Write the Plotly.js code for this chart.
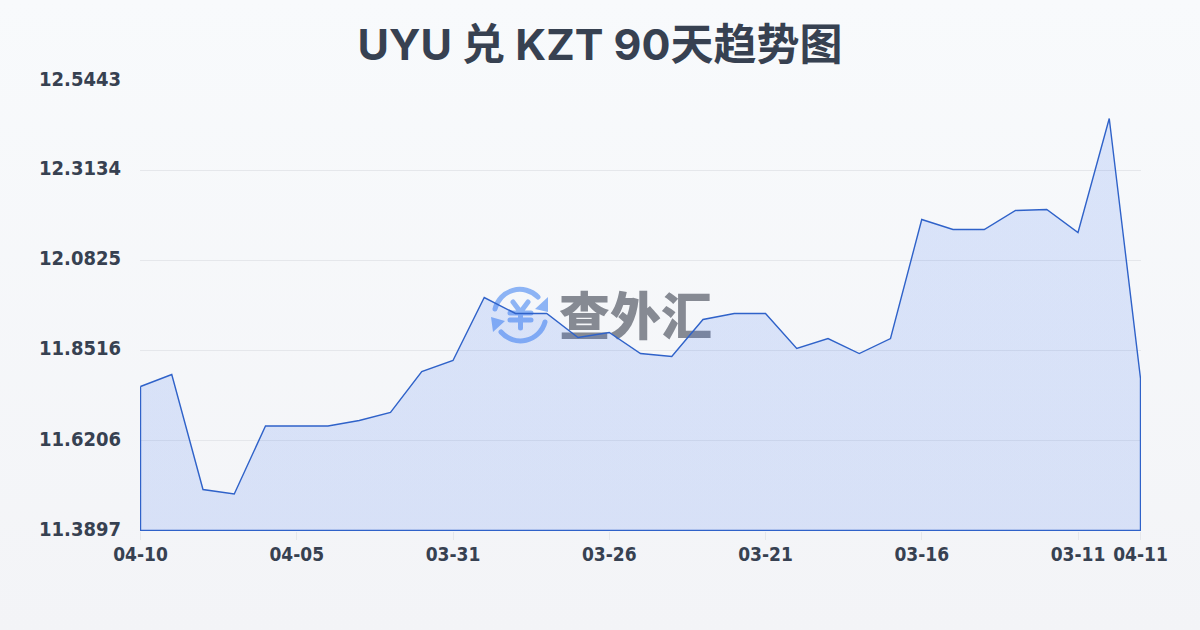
<!DOCTYPE html>
<html>
<head>
<meta charset="utf-8">
<script src="https://cdn.plot.ly/plotly-3.0.1.min.js"></script>
<style>
html,body{margin:0;padding:0;width:1200px;height:630px;overflow:hidden;background:linear-gradient(180deg,#f8fafc 0%,#f3f4f7 100%);}
#wm{position:absolute;left:490px;top:285px;width:240px;height:60px;z-index:0;}
#wm svg{position:absolute;left:0;top:0;}
#wm span{position:absolute;left:69px;top:-7px;font:900 51px/70px "Noto Sans CJK SC";color:#868a93;white-space:nowrap;letter-spacing:0;}
#chart{position:absolute;left:0;top:0;width:1200px;height:630px;z-index:1;}
</style>
</head>
<body>
<div id="wm">
<svg width="62" height="60" viewBox="0 0 62 60">
<g fill="none" stroke="#8db4f5" stroke-width="5" stroke-linecap="round">
<path d="M5 24 A25.5 25.5 0 0 1 48 12"/>
<path d="M55 37 A25.5 25.5 0 0 1 11 47"/>
<path d="M23 17 L30.5 27 L38 17 M20 28 H41 M20 35 H41 M30.5 27 V43"/>
</g>
<path d="M58 12 V27 L45 24 Z M1 32 L15 36 L3 47 Z" fill="#8db4f5"/>
</svg>
<span>查外汇</span>
</div>
<div id="chart"></div>
<script>
const dates = ["04-10","04-09","04-08","04-07","04-06","04-05","04-04","04-03","04-02","04-01","03-31","03-30","03-29","03-28","03-27","03-26","03-25","03-24","03-23","03-22","03-21","03-20","03-19","03-18","03-17","03-16","03-15","03-14","03-13","03-12","03-11","03-10","04-11"];
const rates = [11.7592,11.7900,11.4949,11.4834,11.6578,11.6578,11.6578,11.6719,11.6925,11.7977,11.8259,11.9875,11.9465,11.9465,11.8849,11.8977,11.8438,11.8361,11.9311,11.9465,11.9465,11.8567,11.8823,11.8438,11.8823,12.1877,12.1620,12.1620,12.2108,12.2133,12.1543,12.4468,11.7797];
const yTicks = [11.3897,11.6206,11.8516,12.0825,12.3134,12.5443];
const xTickLabels = ["04-10","04-05","03-31","03-26","03-21","03-16","03-11","04-11"];
const titleText = "UYU 兑 KZT 90天趋势图";

const lastIdx = dates.length - 1;
const xIdx = dates.map((d,i)=>i);
const xTickVals = xTickLabels.map(l=>dates.indexOf(l));
const yMin = yTicks[0], yMax = yTicks[yTicks.length-1];
const xHalfPx = 0.5*lastIdx/1000, yHalfPx = 0.5*(yMax-yMin)/450;

const trace = {
  type:"scatter", mode:"lines", cliponaxis:false,
  x:[...xIdx,lastIdx,0,0],
  y:[...rates,yMin,yMin,rates[0]],
  fill:"toself",
  fillgradient:{type:"vertical",colorscale:[[0,"rgba(40,100,240,0.14)"],[1,"rgba(40,100,240,0.14)"]]},
  line:{color:"#2f62c9",width:1.4,shape:"linear"},
  hoverinfo:"skip"
};
const tickFont = {family:'"DejaVu Sans Condensed","DejaVu Sans"',size:20,color:"#374151",weight:700};
const layout = {
  width:1200,height:630,
  paper_bgcolor:"rgba(0,0,0,0)",plot_bgcolor:"rgba(0,0,0,0)",
  margin:{l:140,r:59,t:80,b:99,pad:0},
  showlegend:false,
  title:{text:titleText,x:0.5,xanchor:"center",y:0.928,yanchor:"middle",
    font:{family:'Inter,"Noto Sans CJK SC"',size:43,color:"#374151",weight:700}},
  xaxis:{type:"linear",range:[-xHalfPx,lastIdx+xHalfPx],tickmode:"array",tickvals:xTickVals,ticktext:xTickLabels,
    showgrid:false,zeroline:false,showline:false,ticks:"outside",ticklen:8,tickwidth:1,tickcolor:"#e5e7eb",
    tickfont:{...tickFont,size:19},ticklabelstandoff:-2,fixedrange:true},
  yaxis:{type:"linear",range:[yMin-yHalfPx,yMax+yHalfPx],tickmode:"array",tickvals:yTicks,ticktext:yTicks.map(v=>v.toFixed(4)),
    showgrid:true,gridcolor:"#e5e7eb",gridwidth:1,zeroline:false,showline:false,ticks:"",
    ticklabelstandoff:18,tickfont:tickFont,fixedrange:true}
};
Plotly.newPlot("chart",[trace],layout,{displayModeBar:false,staticPlot:true}).then(()=>{
  document.querySelectorAll(".ytick text").forEach(t=>t.setAttribute("y",(+t.getAttribute("y")||0)-2));
});
</script>
</body>
</html>
